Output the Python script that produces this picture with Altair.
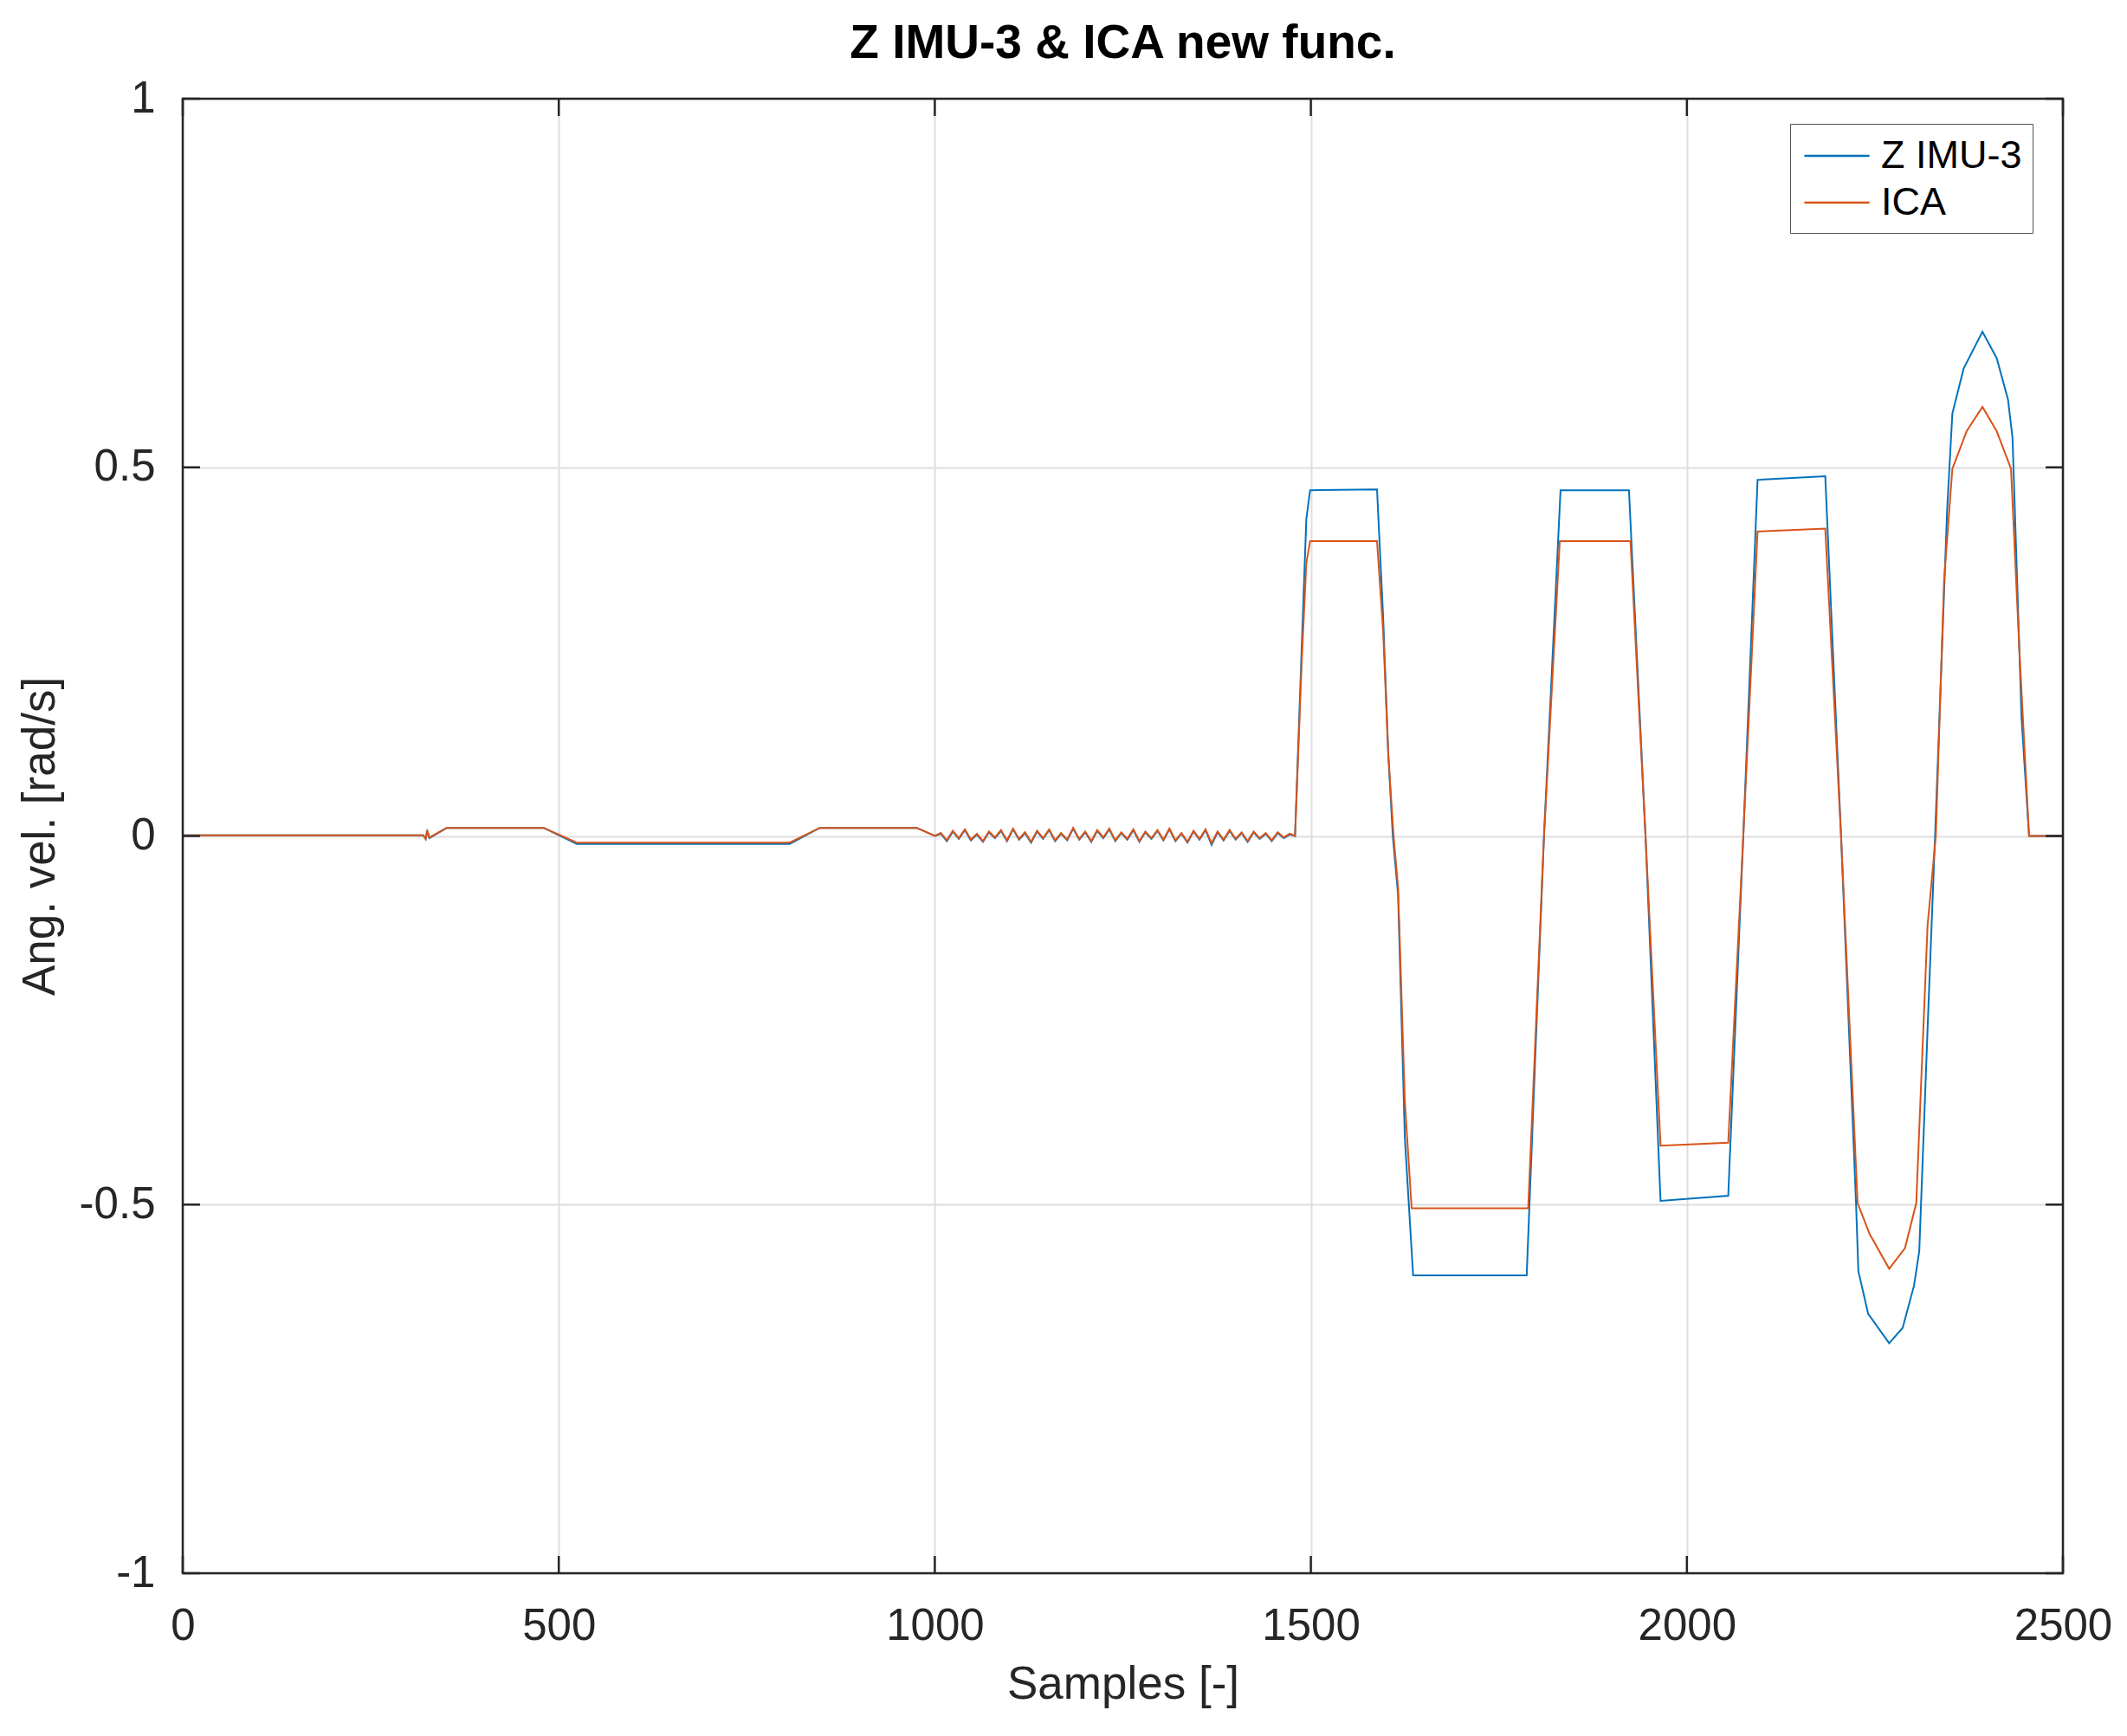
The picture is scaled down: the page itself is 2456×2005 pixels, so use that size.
import altair as alt
import pandas as pd

# ---------------- data ----------------
series_names = ["Z IMU-3", "ICA"]
series_colors = ["#0072BD", "#D95319"]

x_ticks = [0, 500, 1000, 1500, 2000, 2500]
y_ticks = [-1, -0.5, 0, 0.5, 1]

# Z IMU-3
imu_x_start = [0, 320, 323, 325, 328, 351, 480, 524, 807, 847, 976, 1000]
imu_y_start = [0.001, 0.001, -0.004, 0.006, -0.003, 0.011, 0.011, -0.011, -0.011, 0.011, 0.011, 0.0]

noise_x = [1008, 1016, 1024, 1032, 1040, 1048, 1056, 1064, 1072, 1080, 1088, 1096, 1104, 1112,
           1120, 1128, 1136, 1144, 1152, 1160, 1168, 1176, 1184, 1192, 1200, 1208, 1216, 1224,
           1232, 1240, 1248, 1256, 1264, 1272, 1280, 1288, 1296, 1304, 1312, 1320, 1328, 1336,
           1344, 1352, 1360, 1368, 1376, 1384, 1392, 1400, 1408, 1416, 1424, 1432, 1440, 1448,
           1456, 1464, 1472]
imu_noise = [0.003, -0.007, 0.006, -0.004, 0.008, -0.006, 0.002, -0.008, 0.005, -0.003,
             0.007, -0.007, 0.009, -0.005, 0.004, -0.009, 0.006, -0.004, 0.008, -0.007,
             0.003, -0.006, 0.010, -0.005, 0.005, -0.008, 0.007, -0.003, 0.009, -0.007,
             0.004, -0.005, 0.008, -0.008, 0.005, -0.004, 0.007, -0.006, 0.009, -0.007,
             0.003, -0.009, 0.006, -0.005, 0.008, -0.012, 0.005, -0.006, 0.007, -0.005,
             0.004, -0.008, 0.005, -0.004, 0.003, -0.007, 0.004, -0.003, 0.002]

imu_x_end = [1479, 1488, 1494, 1499, 1588, 1596, 1603, 1609, 1616, 1625, 1636, 1787, 1810, 1832,
             1923, 1945, 1965, 2055, 2075, 2094, 2184, 2205, 2225, 2228, 2241, 2269, 2287, 2302,
             2309, 2320, 2330, 2346, 2353, 2368, 2393, 2412, 2427, 2433, 2445, 2455, 2500]
imu_y_end = [0.0, 0.26, 0.43, 0.469, 0.47, 0.30, 0.11, 0.0, -0.08, -0.41, -0.596, -0.596, 0.0,
             0.469, 0.469, 0.0, -0.495, -0.488, 0.0, 0.483, 0.488, 0.0, -0.50, -0.59, -0.648,
             -0.688, -0.667, -0.61, -0.563, -0.263, 0.0, 0.441, 0.573, 0.634, 0.684, 0.648,
             0.592, 0.54, 0.16, 0.0, 0.0]

# ICA
ica_x_start = [0, 320, 323, 325, 328, 351, 480, 524, 807, 847, 976, 1000]
ica_y_start = [0.001, 0.001, -0.004, 0.008, -0.002, 0.011, 0.011, -0.009, -0.009, 0.011, 0.011, 0.0]

ica_noise = [0.004, -0.006, 0.007, -0.003, 0.009, -0.005, 0.003, -0.007, 0.006, -0.002,
             0.008, -0.006, 0.010, -0.004, 0.005, -0.008, 0.007, -0.003, 0.009, -0.006,
             0.004, -0.005, 0.011, -0.004, 0.006, -0.007, 0.008, -0.002, 0.010, -0.006,
             0.005, -0.004, 0.009, -0.007, 0.006, -0.003, 0.008, -0.005, 0.010, -0.006,
             0.004, -0.008, 0.007, -0.004, 0.009, -0.010, 0.006, -0.005, 0.008, -0.004,
             0.005, -0.007, 0.006, -0.003, 0.004, -0.006, 0.005, -0.002, 0.003]

ica_x_end = [1479, 1488, 1494, 1499, 1588, 1596, 1603, 1610, 1616, 1625, 1634, 1789, 1810, 1831,
             1925, 1945, 1965, 2055, 2075, 2094, 2184, 2205, 2227, 2243, 2269, 2290, 2305, 2320,
             2331, 2342, 2353, 2372, 2393, 2412, 2431, 2442, 2455, 2500]
ica_y_end = [0.0, 0.24, 0.37, 0.40, 0.40, 0.28, 0.11, 0.0, -0.07, -0.36, -0.505, -0.505, 0.0,
             0.40, 0.40, 0.0, -0.42, -0.416, 0.0, 0.413, 0.417, 0.0, -0.498, -0.54, -0.587,
             -0.559, -0.498, -0.122, 0.0, 0.347, 0.498, 0.549, 0.582, 0.549, 0.498, 0.254,
             0.0, 0.0]

# ---------------- tables ----------------
imu_df = pd.DataFrame({
    "x": imu_x_start + noise_x + imu_x_end,
    "y": imu_y_start + imu_noise + imu_y_end,
})
imu_df["series"] = series_names[0]
imu_df["order"] = range(len(imu_df))

ica_df = pd.DataFrame({
    "x": ica_x_start + noise_x + ica_x_end,
    "y": ica_y_start + ica_noise + ica_y_end,
})
ica_df["series"] = series_names[1]
ica_df["order"] = range(len(ica_df))

xt_df = pd.DataFrame({"x": x_ticks})
yt_df = pd.DataFrame({"y": y_ticks})
frame_df = pd.DataFrame({"k": [0]})

W, H = 2171, 1703
TICK = 20
AX = "#262626"
FONT = "Liberation Sans"
LBL = 51

x_scale = alt.Scale(domain=[0, 2500], nice=False, zero=False)
y_scale = alt.Scale(domain=[-1, 1], nice=False, zero=False)

x_axis = alt.Axis(values=x_ticks, labelExpr="datum.value + ''", ticks=False, domain=False,
                  labelFlush=False, labelOverlap=False, labelBound=False,
                  labelPadding=36, labelFontSize=LBL, labelFont=FONT, labelColor=AX,
                  titleFontSize=53, titleFont=FONT, titleColor=AX, titleFontWeight="normal",
                  titleBaseline="alphabetic", titleY=144, gridColor="#dedede", gridWidth=2)
y_axis = alt.Axis(values=y_ticks, labelExpr="datum.value + ''", ticks=False, domain=False,
                  labelFlush=False, labelOverlap=False, labelBound=False,
                  labelPadding=32, labelFontSize=LBL, labelFont=FONT, labelColor=AX,
                  titleFontSize=53, titleFont=FONT, titleColor=AX, titleFontWeight="normal",
                  titleBaseline="alphabetic", titleAngle=-90, titleX=-149, titleY=H / 2,
                  gridColor="#dedede", gridWidth=2)

color = alt.Color(
    "series:N",
    scale=alt.Scale(domain=series_names, range=series_colors),
    legend=alt.Legend(
        title=None, orient="none", legendX=1856, legendY=29,
        symbolType="M-1.6,0H1.6", symbolSize=47 * 47, symbolStrokeWidth=2.5,
        symbolOffset=17, labelOffset=26, labelLimit=500,
        labelFontSize=45, labelFont=FONT, labelColor="black",
        rowPadding=6, padding=12,
        strokeColor="#555555", fillColor="white",
    ),
)

def line_layer(df):
    return alt.Chart(df).mark_line(strokeWidth=2, clip=True).encode(
        x=alt.X("x:Q", scale=x_scale, axis=x_axis, title="Samples [-]"),
        y=alt.Y("y:Q", scale=y_scale, axis=y_axis, title="Ang. vel. [rad/s]"),
        color=color,
        order="order:Q",
    )

imu_line = line_layer(imu_df)
ica_line = line_layer(ica_df)

xt_bottom = alt.Chart(xt_df).mark_rule(color=AX, strokeWidth=2.5).encode(
    x=alt.X("x:Q", scale=x_scale, title="Samples [-]"),
    y=alt.value(H), y2=alt.value(H - TICK))
xt_top = alt.Chart(xt_df).mark_rule(color=AX, strokeWidth=2.5).encode(
    x=alt.X("x:Q", scale=x_scale, title="Samples [-]"),
    y=alt.value(0), y2=alt.value(TICK))
yt_left = alt.Chart(yt_df).mark_rule(color=AX, strokeWidth=2.5).encode(
    y=alt.Y("y:Q", scale=y_scale, title="Ang. vel. [rad/s]"),
    x=alt.value(0), x2=alt.value(TICK))
yt_right = alt.Chart(yt_df).mark_rule(color=AX, strokeWidth=2.5).encode(
    y=alt.Y("y:Q", scale=y_scale, title="Ang. vel. [rad/s]"),
    x=alt.value(W), x2=alt.value(W - TICK))

frame = alt.Chart(frame_df).mark_rect(fillOpacity=0, stroke=AX, strokeWidth=2.5).encode(
    x=alt.value(0), x2=alt.value(W), y=alt.value(0), y2=alt.value(H))

chart = alt.layer(imu_line, ica_line, xt_bottom, xt_top, yt_left, yt_right, frame).properties(
    width=W, height=H,
    autosize=alt.AutoSizeParams(type="none"),
    padding={"left": 203, "top": 106, "right": 62, "bottom": 170},
    title=alt.TitleParams("Z IMU-3 & ICA new func.", fontSize=55, fontWeight="bold",
                          font=FONT, anchor="middle", offset=21, dy=55,
                          baseline="alphabetic", frame="group", color="black"),
    background="white",
).configure_view(stroke=None)

chart.save("out.html", embed_options={"renderer": "svg", "actions": False})
